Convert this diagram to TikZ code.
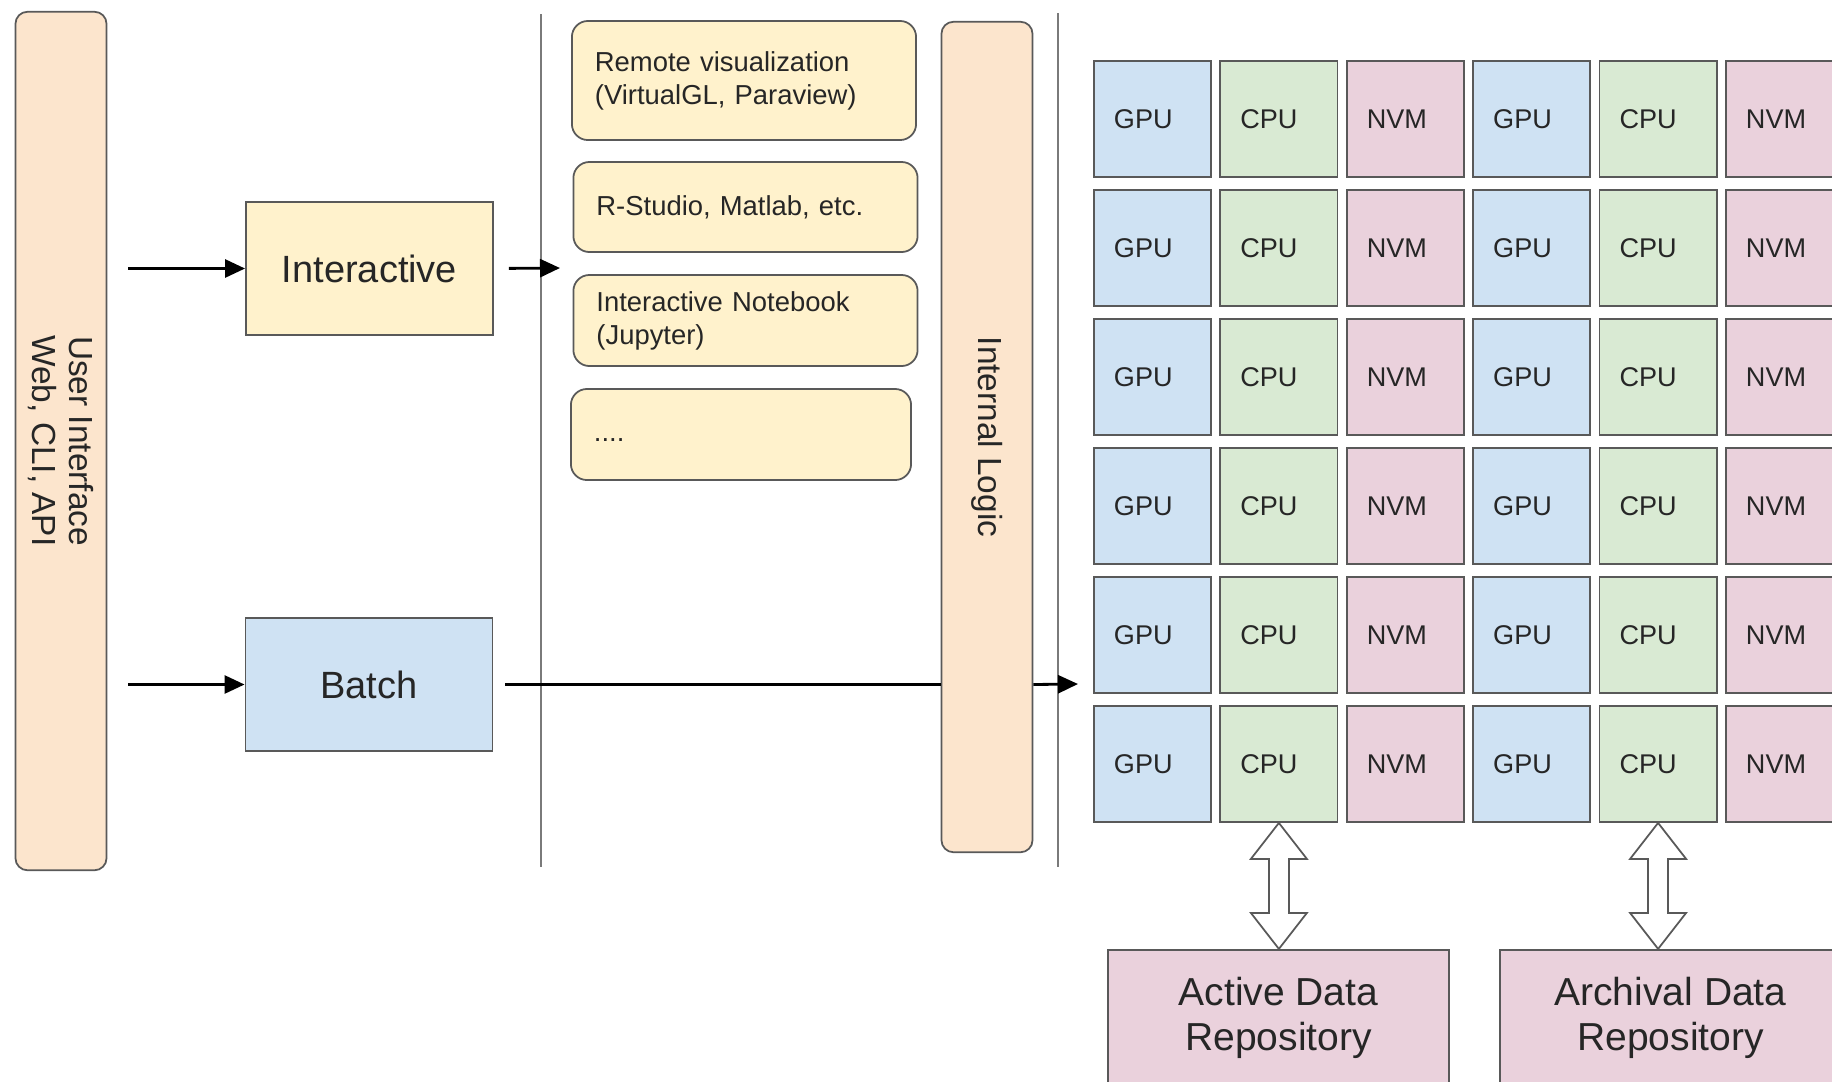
\documentclass[tikz,border=0pt]{standalone}
\usepackage{fontspec}
\setmainfont{Liberation Sans}
\usetikzlibrary{arrows.meta}

\definecolor{peach}{HTML}{FCE5CD}
\definecolor{paleyellow}{HTML}{FFF2CC}
\definecolor{paleblue}{HTML}{CFE2F3}
\definecolor{palegreen}{HTML}{D9EAD3}
\definecolor{palepink}{HTML}{EAD1DC}
\definecolor{edge}{HTML}{595959}

\begin{document}
\begin{tikzpicture}[x=0.01cm, y=-0.01cm, text=black!85,
  box/.style={draw=edge, line width=0.5pt, fill=#1},
  bar/.style={box=peach, rounded corners=0.12cm, rotate=-90, minimum height=0.91cm, align=center, font=\fontsize{9.5}{10.5}\selectfont},
  app/.style={box=paleyellow, rounded corners=0.16cm, text width=2.98cm, inner xsep=0.23cm, minimum height=#1, align=left, font=\fontsize{7.8}{9.4}\selectfont},
  mode/.style={box=#1, minimum width=2.47cm, minimum height=1.33cm, font=\fontsize{10.8}{13}\selectfont},
  cell/.style={box=#1, text width=0.77cm, inner xsep=0.2cm, minimum height=1.16cm, align=left, font=\fontsize{7.7}{9}\selectfont},
  repo/.style={box=palepink, minimum width=3.41cm, minimum height=1.36cm, align=center, font=\fontsize{11.1}{13}\selectfont},
  arr/.style={-{Triangle[length=0.2cm,width=0.18cm]}, line width=0.8pt},
  sep/.style={draw=edge!80, line width=0.5pt},
  hollow/.style={draw=edge, fill=white, line width=0.5pt}]
\useasboundingbox (0,0) rectangle (1832,1081);
\clip (0,0) rectangle (1832,1081);
\node[bar, minimum width=8.58cm] (ui) at (61,441) {User Interface\\Web, CLI, API};
\node[mode=paleyellow] (inter) at (369.5,268.5) {Interactive};
\node[mode=paleblue] (batch) at (369,684.5) {Batch};
\draw[sep] (541,14) -- (541,867);
\draw[sep] (1058,13) -- (1058,867);
\node[app=1.19cm] (remote) at (744,80.5) {Remote visualization\\(VirtualGL, Paraview)};
\node[app=0.90cm] (rstudio) at (745.5,207) {R-Studio, Matlab, etc.};
\node[app=0.91cm] (notebook) at (745.5,320.5) {Interactive Notebook\\(Jupyter)};
\node[app=0.91cm, text width=2.94cm] (more) at (741,434.5) {\strut....};
\node[bar, minimum width=8.30cm] (logic) at (987,437) {Internal Logic};
% compute nodes
\foreach \r in {1,...,6} {
  \foreach \c/\t/\f in {1/GPU/paleblue, 2/CPU/palegreen, 3/NVM/palepink, 4/GPU/paleblue, 5/CPU/palegreen, 6/NVM/palepink}
    \node[cell=\f] (c\r-\c) at ({1152.5+126.4*(\c-1)}, {119+129*(\r-1)}) {\t};
}
\node[repo] (active) at (1278.5,1018) {Active Data\\Repository};
\node[repo] (archive) at (1670.5,1018) {Archival Data\\Repository};
\coordinate (v1in) at (560,268);
\coordinate (gridin) at (1078,684);
\draw[arr, shorten <=0.21cm] (ui.north |- inter.west) -- (inter.west);
\draw[arr, shorten <=0.21cm] (ui.north |- batch.west) -- (batch.west);
\draw[arr, shorten <=0.15cm] (inter.east) -- (v1in);
\draw[line width=0.8pt, shorten <=0.12cm] (batch.east) -- (batch.east -| logic.south);
\draw[arr] (batch.east -| logic.north) -- (gridin);
% data paths
\draw[hollow] (c6-2.south) -- ++(28,36) -- ++(-18,0) -- ++(0,54) -- ++(18,0) -- ++(-28,36) -- ++(-28,-36) -- ++(18,0) -- ++(0,-54) -- ++(-18,0) -- cycle;
\draw[hollow] (c6-5.south) -- ++(28,36) -- ++(-18,0) -- ++(0,54) -- ++(18,0) -- ++(-28,36) -- ++(-28,-36) -- ++(18,0) -- ++(0,-54) -- ++(-18,0) -- cycle;
\end{tikzpicture}
\end{document}
